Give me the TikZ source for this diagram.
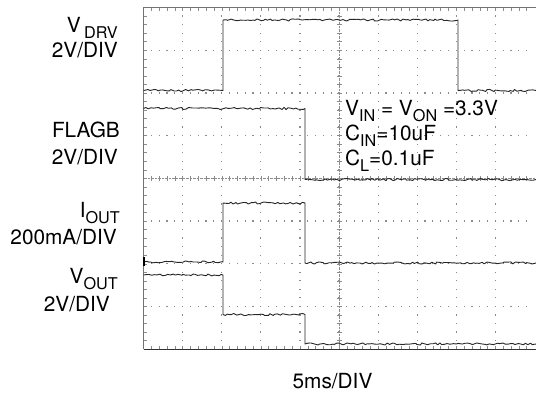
\documentclass[tikz,border=0pt]{standalone}
\usepackage{fontspec}
\setmainfont{TeX Gyre Heros}
\usepackage{tikz}
\usetikzlibrary{calc,decorations.pathmorphing}

\newcommand{\subtxt}[1]{\raisebox{-0.3em}{\scalebox{0.78}{#1}}}

\begin{document}
\begin{tikzpicture}[x=1pt,y=-1pt,
    lbl/.style={inner sep=0pt,font=\fontsize{20.8}{24}\selectfont},
    griddot/.style={black!45},
    trace/.style={black!85,line width=0.9pt,line join=round,
      decoration={random steps,segment length=2.5pt,amplitude=1.1pt}}]
\pgfmathsetmacro{\xgrid}{143.5}%
\pgfmathsetmacro{\ygrid}{7.5}%
\pgfmathsetmacro{\wdiv}{39.1}%
\pgfmathsetmacro{\hdiv}{42.7}%
\pgfmathsetmacro{\xend}{536}%
\pgfmathsetmacro{\ybot}{\ygrid+8*\hdiv}%
\pgfmathsetmacro{\xmid}{\xgrid+5*\wdiv}%
\pgfmathsetmacro{\ymid}{\ygrid+4*\hdiv}%

\pgfmathsetmacro{\xon}{223}%
\pgfmathsetmacro{\xflag}{305}%
\pgfmathsetmacro{\xoff}{458}%

\useasboundingbox[fill=white] (0,0) rectangle (536,394);

    %grille
    \foreach \i in {1,...,9}
      \foreach \j in {1,...,39}
        \fill[griddot] (\xgrid+\i*\wdiv,\ygrid+\j*\hdiv/5) +(-0.6,-0.6) rectangle +(0.6,0.6);
    \foreach \j in {1,...,7}
      \foreach \i in {1,...,49}
        \fill[griddot] (\xgrid+\i*\wdiv/5,\ygrid+\j*\hdiv) +(-0.6,-0.6) rectangle +(0.6,0.6);

    %axes centraux
    \draw[black!45,densely dotted] (\xgrid,\ymid) -- (\xend,\ymid);
    \draw[black!45,densely dotted] (\xmid,\ygrid) -- (\xmid,\ybot);
    \foreach \i in {1,...,49}
      \draw[black!45] (\xgrid+\i*\wdiv/5,\ymid-2.5) -- +(0,5);
    \foreach \j in {1,...,39}
      \draw[black!45] (\xmid-2.5,\ygrid+\j*\hdiv/5) -- +(5,0);

    %cadre
    \foreach \i in {1,...,49} {
      \draw[black!45] (\xgrid+\i*\wdiv/5,\ygrid) -- +(0,3);
      \draw[black!45] (\xgrid+\i*\wdiv/5,\ybot) -- +(0,-3);
    }
    \foreach \j in {1,...,39}
      \draw[black!45] (\xgrid,\ygrid+\j*\hdiv/5) -- +(3,0);
    \draw[black!55,line width=0.9pt] (\xend,\ygrid) -- (\xgrid,\ygrid) -- (\xgrid,\ybot);
    \draw[black!80,line width=1pt] (\xgrid,\ybot) -- (\xend,\ybot);

    %V DRV
    \draw[trace] (\xgrid,90.5) decorate{-- (\xon,90.5)} -- (\xon,20)
      decorate{-- (\xoff,20)} -- (\xoff,90.5) decorate{-- (\xend,90.5)};
    %FLAGB
    \draw[trace] (\xgrid,108.5) decorate{-- (\xflag,108.5)} -- (\xflag,179.5)
      decorate{-- (\xend,179.5)};
    %I OUT
    \draw[trace] (\xgrid,262) decorate{-- (\xon,262)} -- (\xon,203)
      decorate{-- (\xflag,203)} -- (\xflag,263) decorate{-- (\xend,263)};
    %V OUT
    \draw[trace] (\xgrid,275) decorate{-- (\xon,275)} -- (\xon,314.5)
      decorate{-- (\xflag,314.5)} -- (\xflag,344) decorate{-- (\xend,344)};
    \draw[black,line width=2pt] (\xgrid,257) -- (\xgrid,266);

    %legendes
    \node[lbl,anchor=base east] (vdrv) at (118,32) {V\,\subtxt{DRV}};
    \node[lbl,anchor=base east] (vdrvdiv) at (118,57) {2V/DIV};
    \node[lbl,anchor=base east] (flagb) at (120,137) {FLAGB};
    \node[lbl,anchor=base east] (flagbdiv) at (118,164) {2V/DIV};
    \node[lbl,anchor=base east] (iout) at (120,217) {I\subtxt{OUT}};
    \node[lbl,anchor=base east] (ioutdiv) at (117,244) {200mA/DIV};
    \node[lbl,anchor=base east] (vout) at (118,283) {V\subtxt{OUT}};
    \node[lbl,anchor=base east] (voutdiv) at (110,311) {2V/DIV};
    \node[lbl,anchor=base] (tdiv) at (332.5,388) {5ms/DIV};

    %conditions
    \node[lbl,anchor=base west] (vin) at (345,115) {V\subtxt{IN} = V\subtxt{ON} =3.3V};
    \node[lbl,anchor=base west] (cin) at (345,140) {C\subtxt{IN}=10uF};
    \node[lbl,anchor=base west] (cl) at (345,165) {C\subtxt{L}=0.1uF};
\end{tikzpicture}
\end{document}
